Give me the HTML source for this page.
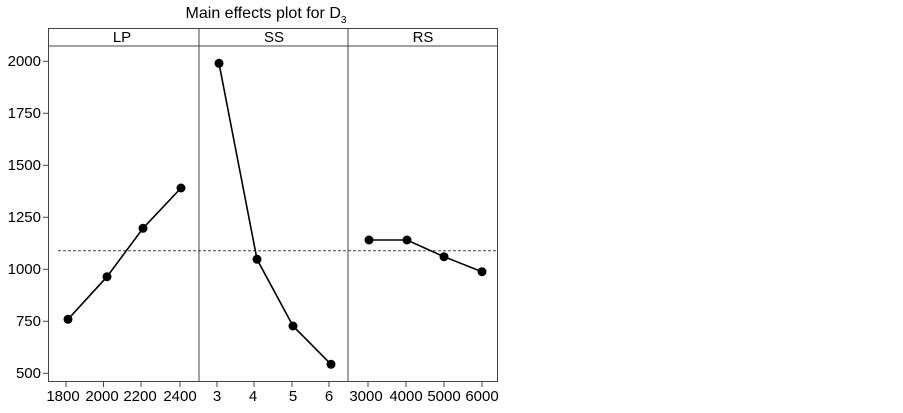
<!DOCTYPE html>
<html><head><meta charset="utf-8"><style>body{margin:0;background:#fff}</style></head>
<body>
<svg width="903" height="408" viewBox="0 0 903 408" xmlns="http://www.w3.org/2000/svg" font-family="Liberation Sans, sans-serif" fill="#000">
<text x="266" y="18" font-size="16" text-anchor="middle">Main effects plot for D<tspan font-size="10" dy="5">3</tspan></text>
<g stroke="#444" stroke-width="1" fill="none">
<rect x="48.5" y="28.5" width="449" height="353"/>
<line x1="48" y1="46" x2="498" y2="46"/>
<line x1="199" y1="28" x2="199" y2="382"/>
<line x1="348" y1="28" x2="348" y2="382"/>
</g>
<g font-size="15" text-anchor="middle">
<text x="122" y="42">LP</text><text x="274" y="42">SS</text><text x="423" y="42">RS</text>
</g>
<g stroke="#444">
<line x1="43" y1="61.3" x2="48" y2="61.3"/><line x1="43" y1="113.3" x2="48" y2="113.3"/>
<line x1="43" y1="165.3" x2="48" y2="165.3"/><line x1="43" y1="217.3" x2="48" y2="217.3"/>
<line x1="43" y1="269.3" x2="48" y2="269.3"/><line x1="43" y1="321.3" x2="48" y2="321.3"/>
<line x1="43" y1="373.3" x2="48" y2="373.3"/>
<line x1="66" y1="382" x2="66" y2="387"/><line x1="103.5" y1="382" x2="103.5" y2="387"/>
<line x1="141" y1="382" x2="141" y2="387"/><line x1="180" y1="382" x2="180" y2="387"/>
<line x1="217" y1="382" x2="217" y2="387"/><line x1="254" y1="382" x2="254" y2="387"/>
<line x1="292" y1="382" x2="292" y2="387"/><line x1="329" y1="382" x2="329" y2="387"/>
<line x1="368" y1="382" x2="368" y2="387"/><line x1="406" y1="382" x2="406" y2="387"/>
<line x1="444" y1="382" x2="444" y2="387"/><line x1="482" y1="382" x2="482" y2="387"/>
</g>
<g font-size="15" text-anchor="end">
<text x="41" y="66">2000</text><text x="41" y="118">1750</text><text x="41" y="170">1500</text>
<text x="41" y="222">1250</text><text x="41" y="274">1000</text><text x="41" y="326">750</text><text x="41" y="378">500</text>
</g>
<g font-size="15" text-anchor="middle">
<text x="63" y="401">1800</text><text x="102" y="401">2000</text><text x="140" y="401">2200</text><text x="180" y="401">2400</text>
<text x="217" y="401">3</text><text x="253" y="401">4</text><text x="293" y="401">5</text><text x="329" y="401">6</text>
<text x="366" y="401">3000</text><text x="406" y="401">4000</text><text x="444" y="401">5000</text><text x="482" y="401">6000</text>
</g>
<line x1="58" y1="250.7" x2="497" y2="250.7" stroke="#444" stroke-dasharray="3,2"/>
<g stroke="#000" stroke-width="1.6" fill="none">
<polyline points="68,319.3 107,276.7 143,228.3 181,188"/>
<polyline points="219,63.3 257,259.3 293,326 331,364.3"/>
<polyline points="369,240 407,240 444,256.7 482,271.7"/>
</g>
<g>
<circle cx="68" cy="319.3" r="4.5"/><circle cx="107" cy="276.7" r="4.5"/><circle cx="143" cy="228.3" r="4.5"/><circle cx="181" cy="188" r="4.5"/>
<circle cx="219" cy="63.3" r="4.5"/><circle cx="257" cy="259.3" r="4.5"/><circle cx="293" cy="326" r="4.5"/><circle cx="331" cy="364.3" r="4.5"/>
<circle cx="369" cy="240" r="4.5"/><circle cx="407" cy="240" r="4.5"/><circle cx="444" cy="256.7" r="4.5"/><circle cx="482" cy="271.7" r="4.5"/>
</g>
</svg>
</body></html>
